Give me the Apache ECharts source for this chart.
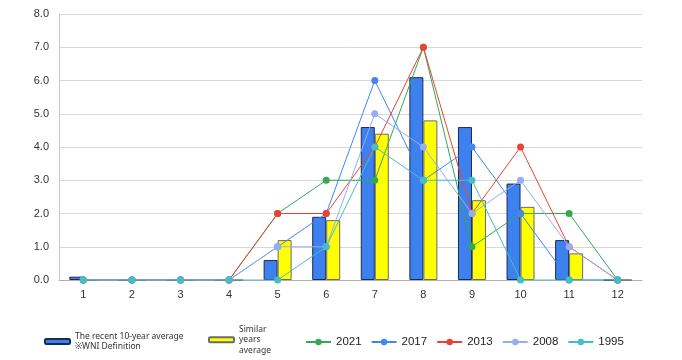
<!DOCTYPE html>
<html>
<head>
<meta charset="utf-8">
<script src="https://cdn.jsdelivr.net/npm/echarts@6/dist/echarts.min.js"></script>
<style>html,body{margin:0;padding:0;background:#fff;}#c{width:682px;height:360px;}</style>
</head>
<body>
<div id="c"></div>
<script>
var categories = ['1','2','3','4','5','6','7','8','9','10','11','12'];
var avg10 = [0.1, 0, 0, 0, 0.6, 1.9, 4.6, 6.1, 4.6, 2.9, 1.2, 0];
var similarAvg = [0, 0, 0, 0, 1.2, 1.8, 4.4, 4.8, 2.4, 2.2, 0.8, 0];
var y2021 = [0, 0, 0, 0, 2, 3, 3, 7, 1, 2, 2, 0];
var y2017 = [0, 0, 0, 0, 1, 2, 6, 3, 4, 2, 0, 0];
var y2013 = [0, 0, 0, 0, 2, 2, 4, 7, 2, 4, 1, 0];
var y2008 = [0, 0, 0, 0, 1, 1, 5, 4, 2, 3, 1, 0];
var y1995 = [0, 0, 0, 0, 0, 1, 4, 3, 3, 0, 0, 0];
var yTicks = ['0.0','1.0','2.0','3.0','4.0','5.0','6.0','7.0','8.0'];

var barNames = ['The recent 10-year average', 'Similar years average'];
var barLabels = {
  'The recent 10-year average': 'The recent 10-year average\n※WNI Definition',
  'Similar years average': 'Similar\nyears\naverage'
};
var lineNames = ['2021','2017','2013','2008','1995'];
var lineData = [y2021, y2017, y2013, y2008, y1995];
var lineColors = ['#34a853','#4285f4','#ea4335','#94aef5','#46bdc6'];

var chart = echarts.init(document.getElementById('c'), null, {renderer:'canvas'});
var series = [
  {name: barNames[0], type:'bar', data: avg10, barWidth:14, barGap:'0%',
   itemStyle:{color:'#3d80f0', borderColor:'#1c2b4c', borderWidth:1}},
  {name: barNames[1], type:'bar', data: similarAvg, barWidth:14, barGap:'0%',
   itemStyle:{color:'#ffff00', borderColor:'#6b6b6b', borderWidth:1}}
];
lineNames.forEach(function(n,i){
  series.push({name:n, type:'line', data: lineData[i], symbol:'circle', symbolSize:7,
    showSymbol:true, lineStyle:{width:1, color: lineColors[i]},
    itemStyle:{color: lineColors[i]}, z:3});
});

var barLegendText = {fontFamily:'Noto Sans', fontSize:8.5, color:'#333', lineHeight:10.5};
chart.setOption({
  animation:false,
  backgroundColor:'#fff',
  grid:{left:59, right:40, top:14, bottom:80},
  legend:[
    {data:[barNames[0]], left:44, top:331, itemWidth:25, itemHeight:5, itemGap:0,
     formatter:function(n){return barLabels[n];}, textStyle:barLegendText, padding:0},
    {data:[barNames[1]], left:208, top:324, itemWidth:25, itemHeight:5, itemGap:0,
     formatter:function(n){return barLabels[n];}, textStyle:barLegendText, padding:0},
    {data:lineNames, left:305, top:336, itemWidth:25, itemHeight:8, itemGap:9, padding:0,
     textStyle:{fontFamily:'Liberation Sans', fontSize:11.5, color:'#222'}}
  ],
  xAxis:{type:'category', data:categories, boundaryGap:true,
    axisTick:{show:false},
    axisLine:{lineStyle:{color:'#b0b0b0', width:1}},
    axisLabel:{fontFamily:'Liberation Sans', fontSize:11, color:'#333', margin:9}},
  yAxis:{type:'value', min:0, max:8, interval:1,
    axisLine:{show:true, lineStyle:{color:'#c8c8c8'}},
    axisTick:{show:false},
    splitLine:{lineStyle:{color:'#d8d8d8', width:1}},
    axisLabel:{fontFamily:'Liberation Sans', fontSize:11, color:'#333', margin:10,
      formatter:function(v){return yTicks[Math.round(v)];}}},
  series: series
});
</script>
</body>
</html>
